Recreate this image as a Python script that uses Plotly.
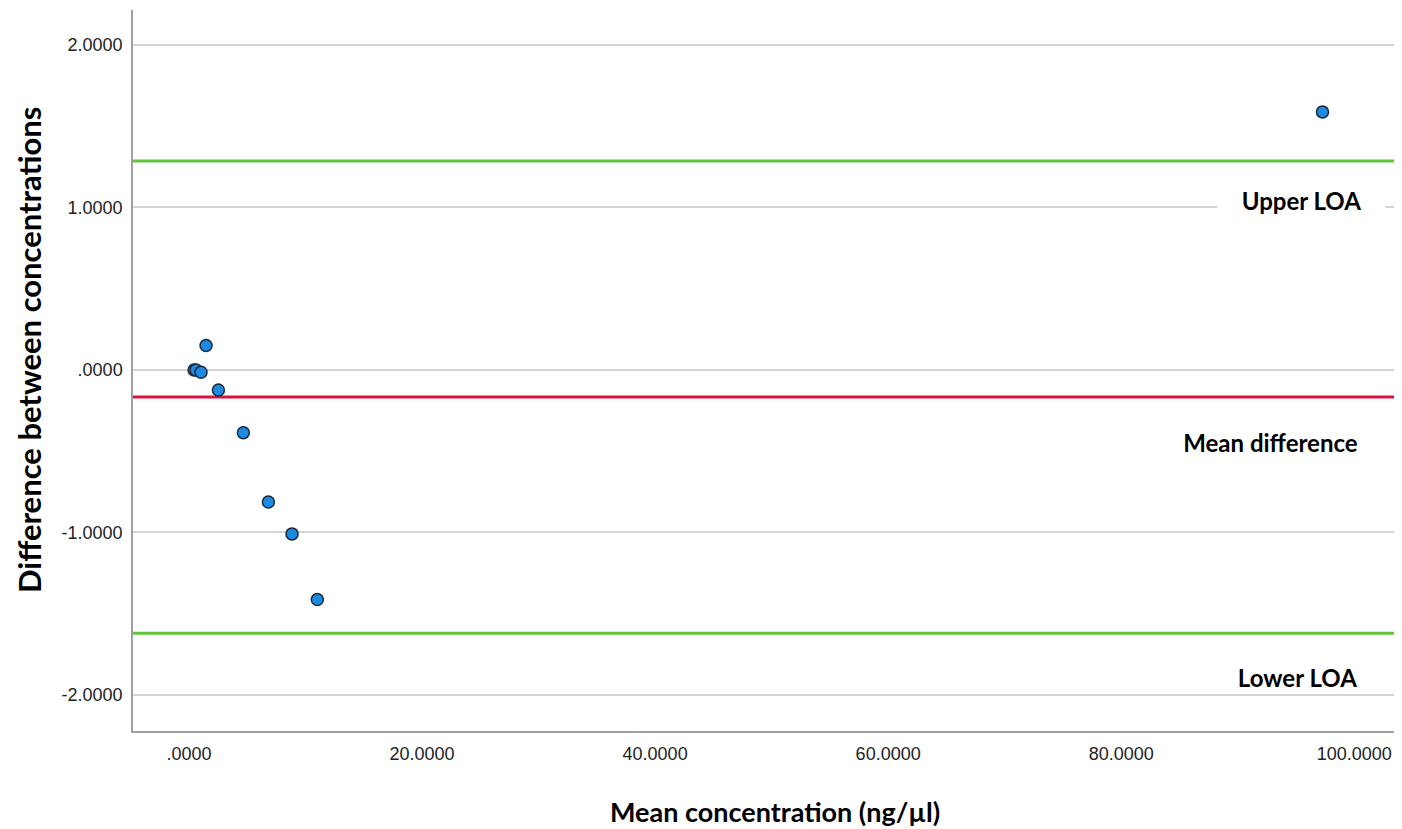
import plotly.graph_objects as go

# Data
mean_conc = [0.43, 0.60, 1.03, 1.46, 2.52, 4.66, 6.81, 8.84, 11.01, 97.28]
diff_conc = [0.0, 0.0, -0.014, 0.150, -0.123, -0.386, -0.813, -1.009, -1.413, 1.588]

mean_diff = -0.167
upper_loa = 1.286
lower_loa = -1.620

x_tickvals = [0, 20, 40, 60, 80, 100]
x_ticktext = [".0000", "20.0000", "40.0000", "60.0000", "80.0000", "100.0000"]
y_tickvals = [2, 1, 0, -1, -2]
y_ticktext = ["2.0000", "1.0000", ".0000", "-1.0000", "-2.0000"]

x_range = [-4.81, 103.5]
y_range = [-2.222, 2.215]

fig = go.Figure()

# reference lines
for yv, col in [(upper_loa, "#5fc63c"), (mean_diff, "#e0113f"), (lower_loa, "#5fc63c")]:
    fig.add_trace(go.Scatter(x=x_range, y=[yv, yv], mode="lines",
                             line=dict(color=col, width=3), hoverinfo="skip", showlegend=False))

fig.add_trace(go.Scatter(
    x=mean_conc, y=diff_conc, mode="markers",
    marker=dict(size=12, color="#1a8ae2", line=dict(color="#1c2a3a", width=1.5)),
    showlegend=False))

ann_font = dict(family="Lato", size=24, color="black")
fig.add_annotation(x=95.5, y=1.046, text="<b>Upper LOA</b>", showarrow=False,
                   font=ann_font, bgcolor="white", width=165, height=28)
fig.add_annotation(x=92.8, y=-0.443, text="<b>Mean difference</b>", showarrow=False,
                   font=ann_font, bgcolor="white", width=205, height=28)
fig.add_annotation(x=95.1, y=-1.889, text="<b>Lower LOA</b>", showarrow=False,
                   font=ann_font, bgcolor="white", width=165, height=28)

# axis titles
fig.add_annotation(xref="paper", yref="paper", x=0.5087, y=-0.111, yanchor="middle",
                   text="<b>Mean concentration (ng/µl)</b>", showarrow=False,
                   font=dict(family="Lato", size=27, color="black"))
fig.add_annotation(xref="paper", yref="paper", x=-0.0985, y=0.528, xanchor="left",
                   text="<b>Difference between concentrations</b>", showarrow=False, textangle=-90,
                   font=dict(family="Lato", size=31, color="black"))

fig.update_layout(
    width=1394, height=821,
    margin=dict(l=125, r=7, t=2, b=98),
    plot_bgcolor="white", paper_bgcolor="white",
)
fig.update_xaxes(range=x_range, tickvals=x_tickvals, ticktext=x_ticktext,
                 showgrid=False, zeroline=False, showline=True, linecolor="#a0a0a0", linewidth=1.5,
                 tickfont=dict(family="Liberation Sans", size=18, color="#222"),
                 ticks="", ticklabelstandoff=6)
fig.update_yaxes(range=y_range, tickvals=y_tickvals, ticktext=y_ticktext,
                 showgrid=True, gridcolor="#d4d4d4", gridwidth=1.5, zeroline=False,
                 showline=True, linecolor="#a0a0a0", linewidth=1.5,
                 tickfont=dict(family="Liberation Sans", size=18, color="#222"),
                 ticks="", ticklabelstandoff=5)

fig.write_html("out.html")
